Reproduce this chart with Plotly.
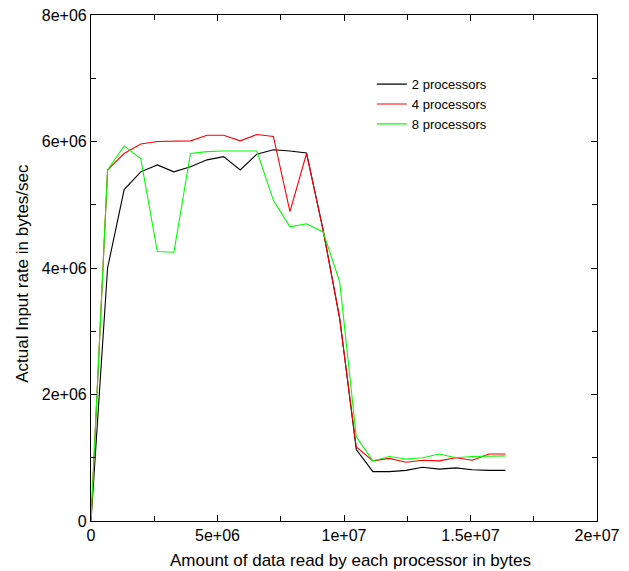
import plotly.graph_objects as go

# Amount of data read per processor: multiples of 640 KB
chunk_bytes = 655360
data_read = [k * chunk_bytes for k in range(26)]

# Measured input rate (bytes/sec) for each processor count
rate_2 = [0, 4.0e6, 5.24e6, 5.52e6, 5.63e6, 5.52e6, 5.60e6, 5.71e6, 5.76e6, 5.55e6,
          5.80e6, 5.87e6, 5.85e6, 5.82e6, 4.60e6, 3.20e6, 1.13e6, 0.78e6, 0.78e6,
          0.80e6, 0.85e6, 0.82e6, 0.84e6, 0.81e6, 0.80e6, 0.80e6]
rate_4 = [0, 5.55e6, 5.81e6, 5.96e6, 6.00e6, 6.01e6, 6.01e6, 6.10e6, 6.10e6, 6.01e6,
          6.11e6, 6.08e6, 4.89e6, 5.81e6, 4.60e6, 3.20e6, 1.17e6, 0.95e6, 0.99e6,
          0.93e6, 0.96e6, 0.95e6, 1.00e6, 0.96e6, 1.06e6, 1.06e6]
rate_8 = [0, 5.55e6, 5.93e6, 5.73e6, 4.26e6, 4.25e6, 5.81e6, 5.84e6, 5.85e6, 5.85e6,
          5.85e6, 5.07e6, 4.65e6, 4.70e6, 4.57e6, 3.78e6, 1.33e6, 0.95e6, 1.02e6,
          0.98e6, 1.00e6, 1.06e6, 1.00e6, 1.02e6, 1.02e6, 1.03e6]

series = [("2 processors", rate_2, "#000000"),
          ("4 processors", rate_4, "#ff0000"),
          ("8 processors", rate_8, "#00ff00")]

x_ticks = [0, 5e6, 1e7, 1.5e7, 2e7]
x_tick_text = ["0", "5e+06", "1e+07", "1.5e+07", "2e+07"]
y_ticks = [0, 2e6, 4e6, 6e6, 8e6]
y_tick_text = ["0", "2e+06", "4e+06", "6e+06", "8e+06"]

font_family = "Liberation Sans, Arial, sans-serif"

fig = go.Figure()
for name, vals, color in series:
    fig.add_trace(go.Scatter(x=data_read, y=vals, mode="lines", name=name,
                             line=dict(color=color, width=1.1)))

axis_common = dict(
    showgrid=False, zeroline=False, showline=True, linecolor="black", linewidth=1.2,
    mirror="ticks", ticks="inside", ticklen=6, tickwidth=1, tickcolor="black",
    tickfont=dict(family=font_family, size=16, color="black"),
    automargin=False,
)

fig.update_xaxes(range=[0, 2e7], tickvals=x_ticks, ticktext=x_tick_text,
                 minor=dict(ticks="inside", ticklen=5, dtick=2.5e6, tickcolor="black"),
                 **axis_common)
fig.update_yaxes(range=[0, 8e6], tickvals=y_ticks, ticktext=y_tick_text,
                 minor=dict(ticks="inside", ticklen=5, dtick=1e6, tickcolor="black"),
                 **axis_common)

fig.add_annotation(text="Amount of data read by each processor in bytes",
                   xref="paper", yref="paper", x=0.513, y=-0.079,
                   xanchor="center", yanchor="middle", showarrow=False,
                   font=dict(family=font_family, size=17, color="black"))
fig.add_annotation(text="Actual Input rate in bytes/sec",
                   xref="paper", yref="paper", x=-0.137, y=0.49,
                   xanchor="center", yanchor="middle", textangle=-90, showarrow=False,
                   font=dict(family=font_family, size=17, color="black"))

fig.update_layout(
    width=629, height=571,
    margin=dict(l=91, r=32, t=15, b=50),
    paper_bgcolor="white", plot_bgcolor="white",
    showlegend=True,
    legend=dict(x=0.555, y=0.893, xanchor="left", yanchor="top",
                bgcolor="rgba(0,0,0,0)", borderwidth=0,
                font=dict(family=font_family, size=13, color="black"),
                tracegroupgap=0, itemwidth=30),
)

fig.write_html("out.html")
